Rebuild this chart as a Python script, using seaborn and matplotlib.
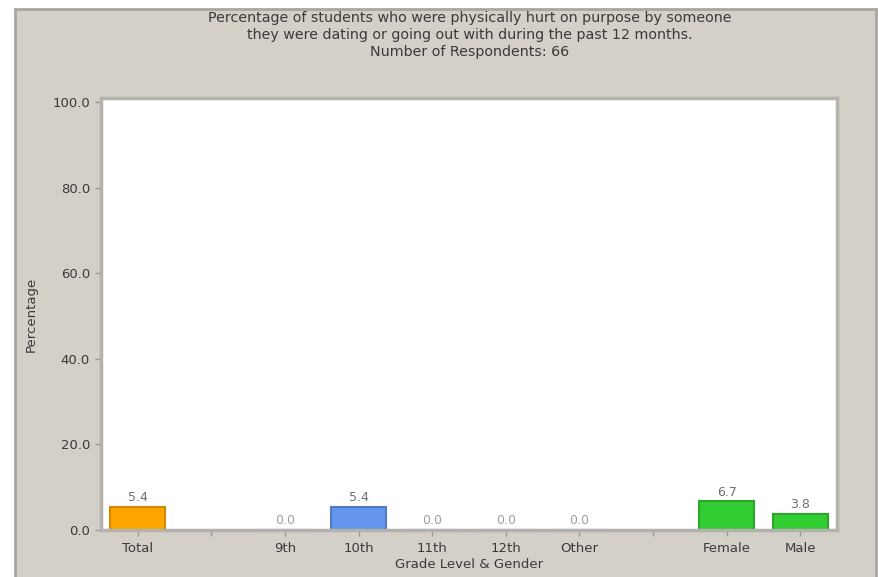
import numpy as np
import pandas as pd
import matplotlib
matplotlib.use("Agg")
import matplotlib.pyplot as plt
import seaborn as sns
from matplotlib.patches import Rectangle

# ---- data ----
slots = ["Total", "gap1", "9th", "10th", "11th", "12th", "Other", "gap2", "Female", "Male"]
tick_labels = ["Total", "", "9th", "10th", "11th", "12th", "Other", "", "Female", "Male"]
values = [5.4, np.nan, 0.0, 5.4, 0.0, 0.0, 0.0, np.nan, 6.7, 3.8]
bar_colors = ["#FFA500", "#FFFFFF", "#6495ED", "#6495ED", "#6495ED", "#6495ED", "#6495ED",
              "#FFFFFF", "#32CD32", "#32CD32"]
title_lines = ["Percentage of students who were physically hurt on purpose by someone",
               "they were dating or going out with during the past 12 months.",
               "Number of Respondents: 66"]
y_ticks = [0, 20, 40, 60, 80, 100]

df = pd.DataFrame({"slot": slots, "value": values})

sns.set_theme(style="white")
plt.rcParams["font.family"] = ["DejaVu Sans"]

BG = "#D4D0C8"
FRAME = "#A8A6A0"
fig = plt.figure(figsize=(8.79, 5.77), dpi=100)
fig.patch.set_facecolor("white")
# outer panel
fig.patches.append(Rectangle((15 / 879, -0.01), (876 - 15) / 879, (577 - 9) / 577 + 0.01,
                             transform=fig.transFigure, facecolor=BG, edgecolor=FRAME,
                             linewidth=2, zorder=-10))

ax = fig.add_axes([101 / 879, 47 / 577, (837 - 101) / 879, (530 - 98) / 577])
ax.set_zorder(5)
ax.set_facecolor("white")

sns.barplot(data=df, x="slot", y="value", hue="slot", order=slots, hue_order=slots,
            palette=dict(zip(slots, bar_colors)), legend=False, width=0.75,
            saturation=1, linewidth=1.5, ax=ax)
for patch in ax.patches:
    r, g, b, a = patch.get_facecolor()
    patch.set_edgecolor((r * 0.82, g * 0.82, b * 0.82, 1))

for i, v in enumerate(values):
    if np.isnan(v):
        continue
    col = "#A0A0A0" if v == 0 else "#707070"
    ax.text(i, v + 0.6, f"{v:.1f}", ha="center", va="bottom", fontsize=9, color=col)

ax.set_xlim(-0.5, len(slots) - 0.5)
ax.set_ylim(0, 101)
ax.set_yticks(y_ticks)
ax.set_yticklabels([f"{t:.1f}" for t in y_ticks])
ax.set_xticks(range(len(slots)))
ax.set_xticklabels(tick_labels)
ax.tick_params(axis="both", which="both", length=4, width=1, color="#999999",
               labelsize=9.5, labelcolor="#3A3A3A", left=True, bottom=True)
ax.tick_params(axis="y", pad=4)
ax.tick_params(axis="x", pad=5)

for s in ["left", "bottom", "top", "right"]:
    ax.spines[s].set_visible(True)
    ax.spines[s].set_color("#B4B2AC")
    ax.spines[s].set_linewidth(2.5)

ax.set_xlabel("Grade Level & Gender", fontsize=9.5, color="#3A3A3A", labelpad=2)
ax.set_ylabel("Percentage", fontsize=9.5, color="#3A3A3A", labelpad=10)

for k, line in enumerate(title_lines):
    fig.text(470 / 879, 1 - (18 + 17 * k) / 577, line, ha="center", va="center",
             fontsize=10.3, color="#3A3A3A")

fig.savefig("out.png", dpi=100, facecolor=fig.get_facecolor())
